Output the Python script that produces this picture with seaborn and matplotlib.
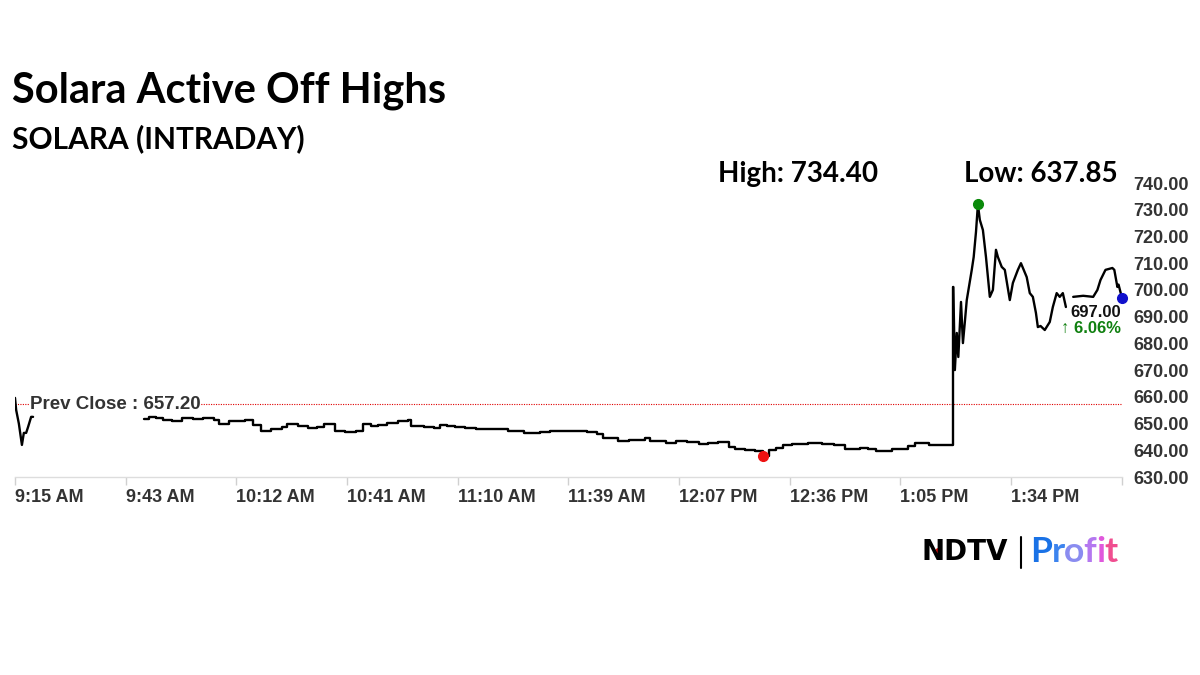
import matplotlib
matplotlib.use("Agg")
import matplotlib.pyplot as plt
import seaborn as sns
import pandas as pd

# ---------------- data ----------------
title = "Solara Active Off Highs"
subtitle = "SOLARA (INTRADAY)"
prev_close = 657.20
high_text = "High: 734.40"
low_text = "Low: 637.85"
last_text = "697.00"
change_text = "\u2191 6.06%"

x_tick_labels = ["9:15 AM", "9:43 AM", "10:12 AM", "10:41 AM", "11:10 AM",
                 "11:39 AM", "12:07 PM", "12:36 PM", "1:05 PM", "1:34 PM", ""]
x_tick_minutes = [0, 28.8, 57.6, 86.4, 115.2, 144.0, 172.8, 201.6, 230.4, 259.2, 288.0]
y_ticks = [630, 640, 650, 660, 670, 680, 690, 700, 710, 720, 730, 740]

# minutes after 9:15 AM
seg1_minutes = [0.0, 0.3, 1.0, 1.8, 2.3, 2.9, 3.4, 4.2, 4.7]
seg1_prices = [659.6, 655.1, 650.0, 642.0, 646.5, 646.5, 648.7, 652.5, 652.5]

seg2_minutes = [33.6, 35.0, 36.7, 38.5, 40.9, 43.5, 46.3, 49.0, 51.8, 53.1, 55.7, 59.8,
                61.9, 64.0, 66.6, 69.5, 70.8, 73.6, 76.2, 78.5, 80.4, 83.3, 85.9, 88.7,
                90.6, 92.6, 94.5, 96.8, 99.7, 102.3, 103.0, 106.4, 109.0, 110.6, 112.5,
                114.5, 117.0, 120.0, 124.1, 128.3, 132.4, 136.6, 139.2, 144.7, 148.8,
                151.4, 153.0, 156.9, 159.8, 163.9, 165.2, 169.4, 172.0, 174.9, 178.0,
                180.3, 182.9, 185.8, 187.5, 189.9, 191.2, 192.6, 194.6, 196.2, 198.0,
                200.0, 202.2, 206.3, 210.0, 213.1, 216.0, 219.9, 222.0, 224.0, 228.2,
                232.4, 234.2, 237.8, 241.0, 244.1,
                244.2, 244.6, 245.1, 245.5, 246.2, 246.7, 247.2, 247.7, 249.0, 249.5,
                250.1, 250.6, 251.1, 251.9, 252.7, 253.7, 254.5, 255.3, 255.8, 256.8,
                257.6, 258.9, 259.7, 261.0, 261.8, 263.3, 264.1, 264.9, 265.7, 266.2,
                266.9, 268.0, 269.3, 270.1, 271.1, 271.9, 272.7, 273.5]
seg2_prices = [651.6, 652.4, 652.1, 651.5, 651.1, 652.1, 651.8, 652.0, 651.2, 649.8, 650.8, 651.4,
               649.6, 647.3, 648.1, 648.6, 649.8, 649.0, 648.3, 648.8, 649.8, 647.1, 646.8, 647.3,
               649.8, 649.0, 649.6, 650.2, 650.8, 651.4, 649.0, 648.6, 648.3, 649.6, 648.9,
               648.6, 648.4, 648.1, 648.1, 647.1, 646.5, 646.8, 647.1, 647.3, 646.8,
               646.1, 644.6, 643.6, 644.0, 644.6, 643.4, 642.7, 643.3, 643.1, 642.5,
               642.7, 643.1, 641.1, 640.6, 640.2, 640.0, 639.6, 637.9, 640.2, 640.9,
               641.8, 642.4, 642.7, 642.5, 642.1, 640.6, 640.9, 640.3, 639.9, 640.6,
               641.5, 642.7, 642.1, 642.1, 642.1,
               701.1, 670.0, 683.9, 674.9, 695.5, 680.1, 688.0, 696.2, 707.5, 712.3,
               721.7, 732.0, 726.2, 722.4, 712.3, 697.4, 700.0, 715.0, 712.3, 708.6,
               707.5, 696.2, 702.6, 707.5, 710.0, 704.8, 698.8, 697.4, 691.4, 686.1,
               686.5, 685.0, 688.0, 693.6, 698.8, 697.4, 698.8, 693.6]

seg3_minutes = [275.4, 278.0, 280.6, 281.7, 282.5, 283.8, 285.6, 286.1, 286.9, 287.2, 288.1]
seg3_prices = [697.4, 697.8, 697.4, 700.0, 703.7, 707.5, 708.2, 707.5, 701.1, 702.0, 697.0]

jump_minute = 244.2   # first print after the breakout

df = pd.concat([
    pd.DataFrame({"minute": seg1_minutes, "price": seg1_prices, "segment": 1}),
    pd.DataFrame({"minute": seg2_minutes, "price": seg2_prices, "segment": 2}),
    pd.DataFrame({"minute": seg3_minutes, "price": seg3_prices, "segment": 3}),
], ignore_index=True)

# quiet session drawn as a step line, the volatile part as a plain line
quiet = df[(df["segment"] == 2) & (df["minute"] <= jump_minute)]
active = df[~((df["segment"] == 2) & (df["minute"] < jump_minute))]

# ---------------- style ----------------
sns.set_theme(style="white")
plt.rcParams["font.family"] = ["Liberation Sans", "DejaVu Sans"]

W, H = 1200, 675
fig = plt.figure(figsize=(12, 6.75), dpi=100)
fig.patch.set_facecolor("white")
ax = fig.add_axes([15 / W, 198 / H, 1107 / W, 294 / H])

sns.lineplot(data=quiet, x="minute", y="price", units="segment", estimator=None,
             color="black", linewidth=1.7, sort=False, legend=False, ax=ax, zorder=3,
             drawstyle="steps-post")
sns.lineplot(data=active, x="minute", y="price", units="segment", estimator=None,
             color="black", linewidth=1.7, sort=False, legend=False, ax=ax, zorder=3)

ax.axhline(prev_close, color="#e00000", linestyle=(0, (1, 1.2)), linewidth=0.8, zorder=1)
ax.text(3.9, prev_close, f"Prev Close : {prev_close:.2f}", ha="left", va="center",
        fontsize=13.5, fontweight="bold", color="#333333", zorder=4,
        bbox=dict(facecolor="white", edgecolor="none", pad=0.5))

hi = df.loc[df["price"].idxmax()]
lo = df.loc[df["price"].idxmin()]
last = df.iloc[-1]
ax.plot([hi["minute"]], [hi["price"]], "o", color="#0a8a0a", markersize=7, zorder=5, clip_on=False)
ax.plot([lo["minute"]], [lo["price"]], "o", color="#ee1111", markersize=7, zorder=5, clip_on=False)
ax.plot([last["minute"]], [last["price"]], "o", color="#1010cc", markersize=7, zorder=5, clip_on=False)

ax.text(last["minute"] - 0.3, last["price"] - 5.3, last_text, ha="right", va="center",
        fontsize=12, fontweight="bold", color="#111111", zorder=6)
ax.text(last["minute"] - 0.3, last["price"] - 11.6, change_text, ha="right", va="center",
        fontsize=12, fontweight="bold", color="#108010", zorder=6)

ax.set_xlim(0, 288.1)
ax.set_ylim(630, 740)
ax.set_xticks(x_tick_minutes)
ax.set_xticklabels(x_tick_labels, ha="left", fontsize=13, fontweight="bold", color="#333333")
ax.set_yticks(y_ticks)
ax.set_yticklabels([f"{v:.2f}" for v in y_ticks], fontsize=13, fontweight="bold", color="#333333")
ax.yaxis.tick_right()
ax.tick_params(axis="y", length=0, pad=8)
ax.tick_params(axis="x", length=6, color="#d0d0d0", width=1, pad=3, direction="out", bottom=True)
ax.set_xlabel("")
ax.set_ylabel("")
for s in ["top", "right", "left"]:
    ax.spines[s].set_visible(False)
ax.spines["bottom"].set_color("#dddddd")
ax.spines["bottom"].set_linewidth(1)
ax.grid(False)

# ---------------- headings ----------------
fig.text(12 / W, 1 - 91 / H, title, ha="left", va="center", fontsize=30, fontweight="bold",
         color="black", family=["Lato", "DejaVu Sans"])
fig.text(12 / W, 1 - 139 / H, subtitle, ha="left", va="center", fontsize=21.5, fontweight="bold",
         color="black", family=["Lato", "DejaVu Sans"])
fig.text(718 / W, 1 - 174 / H, high_text, ha="left", va="center", fontsize=20, fontweight="bold",
         color="black", family=["Lato", "DejaVu Sans"])
fig.text(964 / W, 1 - 174 / H, low_text, ha="left", va="center", fontsize=20, fontweight="bold",
         color="black", family=["Lato", "DejaVu Sans"])

# ---------------- logo ----------------
fig.text(922 / W, 1 - 552 / H, "NDTV", ha="left", va="center", fontsize=20, fontweight="bold",
         color="black", family=["DejaVu Sans"])
fig.add_artist(plt.Line2D([938 / W], [1 - 551 / H], marker="o", color="#e01010",
                          markersize=4, linestyle="none"))
fig.add_artist(plt.Line2D([1021 / W, 1021 / W], [1 - 537 / H, 1 - 568 / H], color="black", lw=1.5))
profit_colors = ["#1a72e6", "#3d84ee", "#8a8cf0", "#b478f0", "#e058dc", "#f04e90"]
renderer = fig.canvas.get_renderer()
x0 = 1030
for ch, c in zip("Profit", profit_colors):
    t = fig.text(x0 / W, 1 - 552 / H, ch, ha="left", va="center", fontsize=25.5, fontweight="bold",
                 color=c, family=["Lato", "DejaVu Sans"])
    bb = t.get_window_extent(renderer=renderer)
    x0 += bb.width - 0.5

fig.savefig("out.png", dpi=100, facecolor="white")
